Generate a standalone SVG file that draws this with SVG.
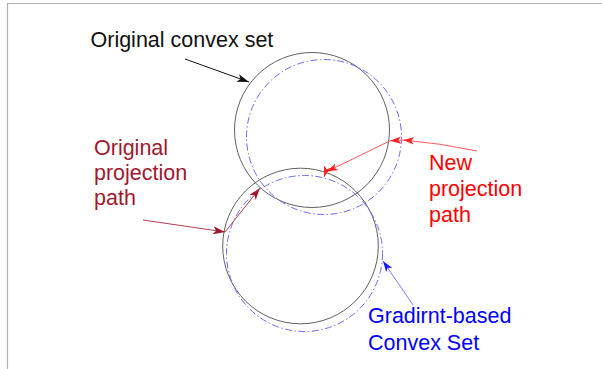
<svg xmlns="http://www.w3.org/2000/svg" width="602" height="369" viewBox="0 0 602 369">
  <style>
    .set { fill: none; stroke: #606060; stroke-width: 1; }
    .grad { fill: none; stroke: #6a6aff; stroke-width: 1; stroke-dasharray: 7 2.5 1.5 2.5; }
    .lbl { font-family: "Liberation Sans", Arial, sans-serif; font-size: 21.5px; }
    .conn { fill: none; stroke-width: 1; }
  </style>
  <defs>
    <marker id="ah-black" viewBox="0 0 12 8" refX="12" refY="4" markerWidth="12" markerHeight="8" markerUnits="userSpaceOnUse" orient="auto">
      <path d="M0,0 L12,4 L0,8 L3,4 z" fill="#111"/>
    </marker>
    <marker id="ah-dred" viewBox="0 0 12 8" refX="12" refY="4" markerWidth="12" markerHeight="8" markerUnits="userSpaceOnUse" orient="auto">
      <path d="M0,0 L12,4 L0,8 L3,4 z" fill="#a0182d"/>
    </marker>
    <marker id="ah-red" viewBox="0 0 12 8" refX="12" refY="4" markerWidth="11" markerHeight="8" markerUnits="userSpaceOnUse" orient="auto">
      <path d="M0,0 L12,4 L0,8 L3,4 z" fill="#ff2020"/>
    </marker>
    <marker id="ah-blue" viewBox="0 0 12 8" refX="12" refY="4" markerWidth="11" markerHeight="8" markerUnits="userSpaceOnUse" orient="auto">
      <path d="M0,0 L12,4 L0,8 L3,4 z" fill="#1a1aff"/>
    </marker>
  </defs>

  <rect width="602" height="369" fill="#fff"/>
  <!-- frame edges -->
  <path d="M7.5,369 V3.5 H602" fill="none" stroke="#b0b0b0" stroke-width="1.2"/>

  <g id="original-upper">
    <circle class="set" cx="312" cy="130" r="77.5"/>
  </g>
  <g id="gradient-upper">
    <circle class="grad" cx="324" cy="137" r="77.5"/>
  </g>
  <g id="original-lower">
    <circle class="set" cx="300.5" cy="246" r="77.8"/>
  </g>
  <g id="gradient-lower">
    <circle class="grad" cx="304.5" cy="253.5" r="78"/>
  </g>

  <g id="label-original-set">
    <text class="lbl" x="90.5" y="47" fill="#111">Original convex set</text>
  </g>
  <g id="label-original-path">
    <text class="lbl" x="94" y="155" fill="#a0182d">Original</text>
    <text class="lbl" x="94" y="180" fill="#a0182d">projection</text>
    <text class="lbl" x="94" y="205" fill="#a0182d">path</text>
  </g>
  <g id="label-new-path">
    <text class="lbl" x="429" y="170" fill="#ff0000">New</text>
    <text class="lbl" x="429" y="196" fill="#ff0000">projection</text>
    <text class="lbl" x="429" y="222" fill="#ff0000">path</text>
  </g>
  <g id="label-gradient-set">
    <text class="lbl" x="368" y="323" fill="#0000ff">Gradirnt-based</text>
    <text class="lbl" x="368" y="350" fill="#0000ff">Convex Set</text>
  </g>

  <g id="connectors">
    <line class="conn" x1="185" y1="59" x2="249" y2="82" stroke="#111" marker-end="url(#ah-black)"/>
    <!-- original projection path -->
    <line class="conn" x1="143" y1="220" x2="225" y2="232" stroke="#b04050" marker-end="url(#ah-dred)"/>
    <line class="conn" x1="225" y1="232" x2="260" y2="188" stroke="#b04050" marker-end="url(#ah-dred)"/>
    <!-- new projection path -->
    <path class="conn" d="M477,151 Q440,143 403,140" stroke="#ff5a5a" marker-end="url(#ah-red)"/>
    <line class="conn" x1="403" y1="140" x2="390" y2="140.8" stroke="#ff5a5a" marker-end="url(#ah-red)"/>
    <line class="conn" x1="390" y1="140.8" x2="327" y2="171.5" stroke="#ff5a5a" marker-end="url(#ah-red)"/>
    <line class="conn" x1="326" y1="171" x2="324" y2="177" stroke="#ff5a5a" marker-end="url(#ah-red)"/>
    <!-- gradient set pointer -->
    <line class="conn" x1="413" y1="305" x2="383" y2="261" stroke="#7a7aff" marker-end="url(#ah-blue)"/>
  </g>
</svg>
